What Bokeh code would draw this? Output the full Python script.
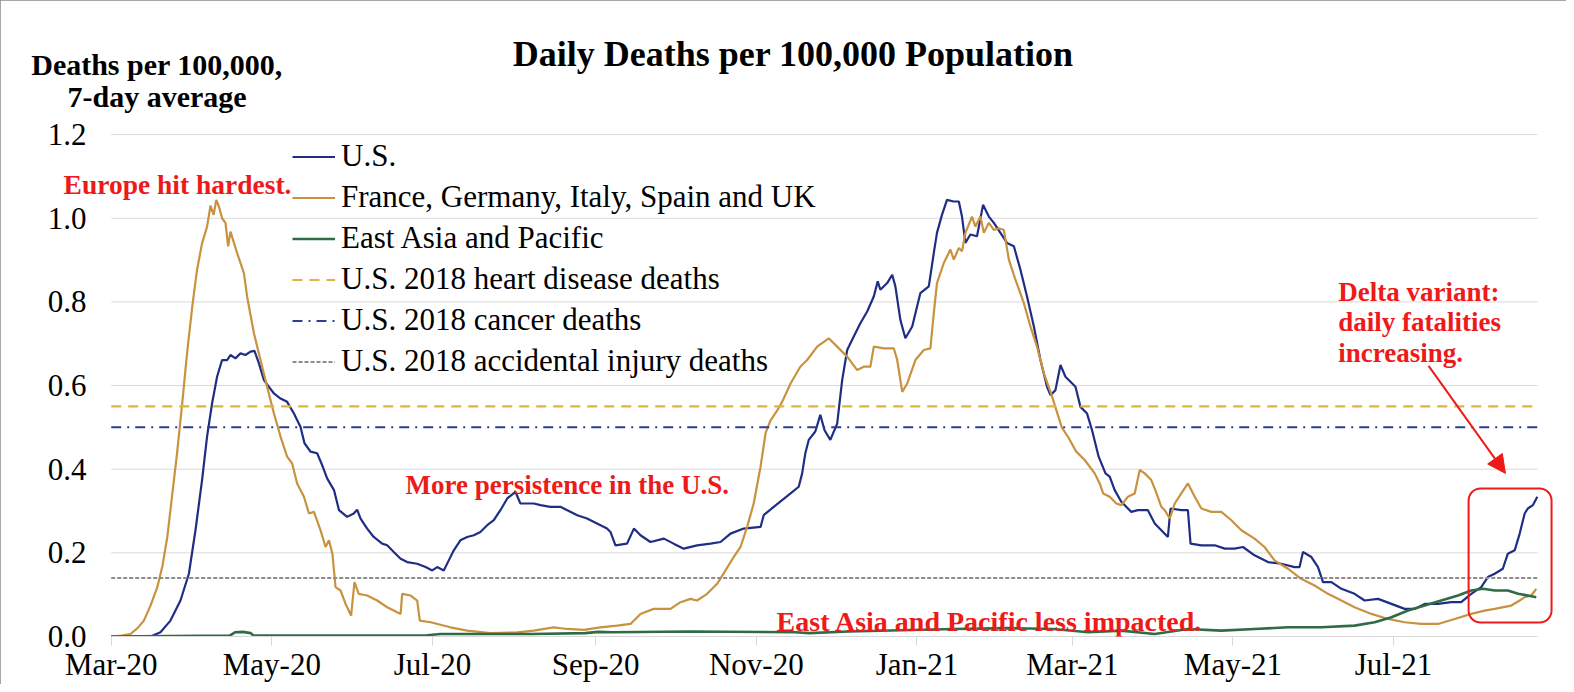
import numpy as np
import pandas as pd
from bokeh.plotting import figure
from bokeh.models import (FixedTicker, DatetimeTickFormatter, PrintfTickFormatter, Label,
                          Legend, LegendItem, BoxAnnotation, Arrow, NormalHead, Range1d)
from bokeh.embed import file_html
from bokeh.resources import INLINE

# ---------------- data ----------------
START = pd.Timestamp("2020-03-01")   # day 0
END_DAY = 541.7                      # last day shown on the axis

us_day = [0, 15, 18.7, 22.5, 26.3, 29.5, 32, 34.5, 36.4, 38.3, 40.2, 42.1, 44, 45.3, 47.2, 49.1, 51,
          52.9, 54.4, 56.1, 58, 59.9, 61.8, 64.3, 66.8, 69.4, 71.9, 73.4, 75.7, 78.2, 80.1, 82, 84.6,
          86.5, 89.6, 92.1, 93.4, 94.7, 97.2, 99.7, 102.9, 104.8, 107.3, 109.9, 112.4, 116.2, 119.4,
          121.9, 123.8, 126.3, 128.2, 130.1, 132.6, 135.2, 137.7, 140.2, 142.8, 145.3, 147.8, 150.4,
          153.5, 155.4, 160.5, 163, 166.8, 170.6, 173.2, 177, 180.7, 184.5, 188.3, 189.6, 191.5,
          195.9, 198.5, 201, 204.8, 209.9, 213.6, 217.4, 222.5, 227.6, 231.4, 235.2, 240.2, 246.6,
          247.8, 251.6, 254.8, 258, 261.1, 262.4, 263.6, 264.9, 267.4, 269.3, 270.9, 273.1, 275.7,
          277.6, 279.5, 282, 284.5, 287.1, 289.6, 291.1, 292.1, 294.7, 296.6, 297.8, 299.7, 301.6,
          304.2, 307.3, 310.5, 312.4, 313.6, 315.5, 317.4, 319.9, 321.9, 323.1, 324.4, 326.3, 328.8,
          331.1, 333.3, 335.2, 337.7, 340.2, 342.8, 345.3, 347.8, 350.4, 352.9, 355.4, 356.7, 358.6,
          360.5, 362.4, 364.3, 366.2, 368.1, 370.6, 372.5, 375, 377.6, 379.2, 381.1, 383.6, 387.4,
          389.9, 393.7, 396.3, 398.8, 401.3, 402.3, 406.4, 408.9, 409.9, 414, 419.1, 422.9, 426.6,
          429.8, 434.2, 439.3, 444.4, 449.4, 451.3, 452.6, 455.8, 458.3, 460.2, 463.4, 467.2, 472.2,
          476, 481.1, 486.2, 491.2, 495, 498.8, 503.9, 508.9, 512.7, 516.5, 520.3, 522.8, 525.4,
          528.5, 530.4, 533, 534.9, 536.8, 538, 539.9, 541.6]
us_val = [0, 0, 0.01, 0.038, 0.086, 0.15, 0.254, 0.374, 0.478, 0.557, 0.621, 0.661, 0.661, 0.673,
          0.665, 0.677, 0.673, 0.681, 0.683, 0.653, 0.613, 0.597, 0.581, 0.569, 0.561, 0.533, 0.501,
          0.462, 0.442, 0.438, 0.41, 0.378, 0.35, 0.302, 0.286, 0.294, 0.303, 0.282, 0.258, 0.238,
          0.222, 0.218, 0.202, 0.186, 0.178, 0.174, 0.166, 0.158, 0.166, 0.158, 0.182, 0.206, 0.23,
          0.238, 0.242, 0.25, 0.266, 0.278, 0.302, 0.33, 0.346, 0.318, 0.318, 0.314, 0.31, 0.31,
          0.302, 0.29, 0.282, 0.27, 0.258, 0.25, 0.218, 0.222, 0.258, 0.242, 0.226, 0.234, 0.222,
          0.21, 0.218, 0.222, 0.226, 0.246, 0.258, 0.262, 0.29, 0.31, 0.326, 0.342, 0.358, 0.39,
          0.438, 0.47, 0.49, 0.53, 0.493, 0.47, 0.509, 0.613, 0.685, 0.717, 0.749, 0.777, 0.813,
          0.849, 0.829, 0.845, 0.865, 0.837, 0.757, 0.713, 0.741, 0.821, 0.837, 0.917, 0.965, 1.008,
          1.044, 1.04, 1.04, 1.004, 0.941, 0.961, 0.957, 1.032, 1.004, 0.989, 0.965, 0.941, 0.933,
          0.877, 0.813, 0.741, 0.661, 0.597, 0.577, 0.589, 0.649, 0.621, 0.609, 0.597, 0.549, 0.533,
          0.493, 0.43, 0.39, 0.382, 0.35, 0.322, 0.298, 0.302, 0.302, 0.27, 0.254, 0.238, 0.306,
          0.302, 0.302, 0.222, 0.218, 0.218, 0.21, 0.21, 0.214, 0.194, 0.178, 0.174, 0.166, 0.166,
          0.202, 0.19, 0.166, 0.13, 0.13, 0.114, 0.102, 0.086, 0.09, 0.078, 0.066, 0.066, 0.078,
          0.078, 0.082, 0.082, 0.102, 0.118, 0.142, 0.15, 0.162, 0.198, 0.206, 0.246, 0.294, 0.306,
          0.314, 0.334]

eu_day = [0, 4, 7.3, 10, 12.4, 15, 17.5, 19.5, 21.3, 23, 25, 27, 28.8, 30.8, 32.6, 34.5, 36.4,
          37.7, 38.9, 39.9, 40.9, 42.1, 43.4, 44.4, 45.3, 47.8, 50.4, 51.6, 54.2, 56.7, 59.2, 61.8,
          64.3, 66.8, 68.7, 70.6, 73.2, 75.1, 77, 79.5, 81.4, 82.7, 84, 85.2, 87.1, 89, 91.1, 92.4,
          94, 97.2, 101, 104.8, 108.6, 109.9, 110.5, 113.7, 116.2, 117.2, 121.3, 128.8, 135.2, 144,
          154.2, 160.5, 168, 173.2, 179.5, 185.8, 192.1, 197.2, 201, 206, 212.4, 216.2, 220, 222.5,
          226.3, 230.1, 233.3, 236.4, 239, 241.5, 244, 246.6, 248.5, 250.4, 253, 254.8, 258, 261.7,
          264.3, 268.1, 272.5, 275.7, 279.5, 283.3, 285.8, 288.3, 289.6, 293.4, 297.2, 298.5, 300.4,
          302.3, 305.4, 308.6, 311.1, 312.4, 313.6, 316.2, 318.7, 320, 321.9, 323.1, 324.4, 326.9,
          328.2, 330.1, 331.4, 333.3, 335.2, 337.1, 339, 340.9, 343.4, 346.6, 349.1, 351.6, 354.2,
          357, 359, 361, 363.4, 366.5, 369.7, 373.5, 375.4, 376.7, 379.2, 381.7, 383.6, 386.1,
          388.7, 390.6, 392.5, 395, 397, 398.8, 400.1, 402, 403.9, 406.4, 408.9, 411.5, 414, 417.8,
          421.6, 425.4, 429.2, 434.2, 438, 441.8, 446.9, 451.9, 457, 462.1, 467.2, 472.2, 478.6,
          484.9, 491.2, 497.5, 503.9, 510.2, 516.5, 521.6, 525.4, 531.7, 534.9, 536.8, 539.3, 541.2]
eu_val = [0, 0.002, 0.006, 0.02, 0.038, 0.075, 0.118, 0.17, 0.238, 0.33, 0.438, 0.56, 0.677, 0.79,
          0.877, 0.94, 0.98, 1.03, 1.008, 1.044, 1.028, 1.0, 0.989, 0.933, 0.968, 0.917, 0.869, 0.813,
          0.725, 0.661, 0.597, 0.533, 0.478, 0.43, 0.414, 0.366, 0.334, 0.294, 0.298, 0.254, 0.214,
          0.23, 0.198, 0.118, 0.11, 0.078, 0.05, 0.13, 0.102, 0.098, 0.086, 0.07, 0.058, 0.054, 0.102,
          0.098, 0.086, 0.038, 0.034, 0.022, 0.014, 0.008, 0.01, 0.014, 0.022, 0.018, 0.016, 0.022,
          0.026, 0.03, 0.054, 0.066, 0.066, 0.082, 0.09, 0.086, 0.102, 0.126, 0.158, 0.19, 0.214,
          0.262, 0.318, 0.406, 0.486, 0.517, 0.541, 0.561, 0.605, 0.645, 0.661, 0.693, 0.713, 0.693,
          0.669, 0.637, 0.645, 0.645, 0.693, 0.689, 0.689, 0.661, 0.585, 0.605, 0.661, 0.685, 0.689,
          0.773, 0.845, 0.893, 0.925, 0.901, 0.929, 0.921, 0.965, 1.004, 0.98, 1.004, 0.965, 0.989,
          0.972, 0.976, 0.972, 0.901, 0.853, 0.797, 0.741, 0.693, 0.629, 0.58, 0.54, 0.5, 0.477,
          0.442, 0.422, 0.39, 0.366, 0.342, 0.334, 0.318, 0.314, 0.334, 0.342, 0.398, 0.39, 0.374,
          0.342, 0.31, 0.302, 0.282, 0.318, 0.342, 0.366, 0.334, 0.306, 0.298, 0.298, 0.278, 0.254,
          0.234, 0.214, 0.182, 0.162, 0.138, 0.122, 0.102, 0.086, 0.07, 0.054, 0.042, 0.034, 0.03,
          0.03, 0.042, 0.054, 0.062, 0.066, 0.074, 0.086, 0.094, 0.098, 0.114]

ea_day = [0, 45, 47, 50, 53, 54, 100, 120, 125, 160, 180, 185, 190, 220, 260, 265, 280, 300, 320,
          340, 358, 371, 383.6, 396.3, 408.9, 421.6, 434.2, 446.9, 459.6, 472.2, 479.8, 486.2, 492.5,
          498.8, 505.1, 511.5, 516.5, 521, 525.4, 530.4, 534.3, 538, 541.2]
ea_val = [0, 0.002, 0.01, 0.011, 0.008, 0.002, 0.002, 0.003, 0.006, 0.006, 0.008, 0.011, 0.01,
          0.012, 0.01, 0.008, 0.012, 0.015, 0.018, 0.02, 0.018, 0.01, 0.014, 0.006, 0.018, 0.014,
          0.018, 0.022, 0.022, 0.026, 0.034, 0.046, 0.062, 0.074, 0.086, 0.098, 0.11, 0.114, 0.11,
          0.11, 0.102, 0.098, 0.094]

heart_val = 0.55
cancer_val = 0.50
injury_val = 0.14

series_names = ["U.S.", "France, Germany, Italy, Spain and UK", "East Asia and Pacific",
                "U.S. 2018 heart disease deaths", "U.S. 2018 cancer deaths",
                "U.S. 2018 accidental injury deaths"]
x_tick_dates = ["2020-03-01", "2020-05-01", "2020-07-01", "2020-09-01", "2020-11-01",
                "2021-01-01", "2021-03-01", "2021-05-01", "2021-07-01"]
y_ticks = [0.0, 0.2, 0.4, 0.6, 0.8, 1.0, 1.2]

# ---------------- helpers ----------------
def to_dt(days):
    return START + pd.to_timedelta(np.asarray(days, dtype=float), unit="D")

def ms(day):
    return (START + pd.Timedelta(days=day)).timestamp() * 1000.0

FONT = "Liberation Serif"
RED = "#EE1A1A"
C_US = "#1F2E84"
C_EU = "#C8923F"
C_EA = "#2E6B46"
C_HEART = "#E2B33C"
C_CANCER = "#2C3E98"
C_INJ = "#8C8C8C"
C_GRID = "#d9d9d9"

# frame spans nearly the whole canvas so that annotations outside the axes are not clipped
X_START_DAY = -37.49
X_END_DAY = 550.4
Y_TOP = 1.511

p = figure(width=1566, height=684, x_axis_type="datetime", output_backend="svg",
           toolbar_location=None,
           x_range=Range1d(ms(X_START_DAY), ms(X_END_DAY)), y_range=Range1d(0, Y_TOP),
           min_border_left=12, min_border_right=6, min_border_top=4, min_border_bottom=40)
p.title.visible = False
p.outline_line_color = None
p.background_fill_color = "white"
p.border_fill_color = "white"
p.styles = {"outline": "1px solid #8a8a8a", "outline-offset": "-1px"}

# gridlines only across the data period
p.xgrid.visible = False
p.ygrid.visible = False
n = len(y_ticks)
p.segment(x0=to_dt([0] * n), x1=to_dt([END_DAY] * n), y0=y_ticks, y1=y_ticks,
          line_color=C_GRID, line_width=1)

p.yaxis.ticker = FixedTicker(ticks=y_ticks)
p.yaxis.formatter = PrintfTickFormatter(format="%.1f")
p.yaxis.axis_line_color = None
p.yaxis.major_tick_line_color = None
p.yaxis.minor_tick_line_color = None
p.yaxis.major_tick_out = 0
p.yaxis.major_tick_in = 0
p.yaxis.major_label_text_font = FONT
p.yaxis.major_label_text_font_size = "31px"
p.yaxis.major_label_text_color = "black"
p.yaxis.major_label_standoff = -74

p.xaxis.ticker = FixedTicker(ticks=[ms((pd.Timestamp(d) - START).days) for d in x_tick_dates])
fmt = "%b-%y"
p.xaxis.formatter = DatetimeTickFormatter(days=fmt, months=fmt, years=fmt, hours=fmt,
                                          minutes=fmt, seconds=fmt, milliseconds=fmt,
                                          microseconds=fmt, minsec=fmt, hourmin=fmt)
p.xaxis.bounds = (ms(0), ms(END_DAY))
p.xaxis.axis_line_color = C_GRID
p.xaxis.major_tick_line_color = C_GRID
p.xaxis.major_tick_out = 9
p.xaxis.major_tick_in = 0
p.xaxis.minor_tick_line_color = None
p.xaxis.major_label_text_font = FONT
p.xaxis.major_label_text_font_size = "31px"
p.xaxis.major_label_text_color = "black"
p.xaxis.major_label_standoff = 1

# series
x_ends = to_dt([0, END_DAY])
r_us = p.line(to_dt(us_day), us_val, line_color=C_US, line_width=2.2)
r_eu = p.line(to_dt(eu_day), eu_val, line_color=C_EU, line_width=2.2)
r_ea = p.line(to_dt(ea_day), ea_val, line_color=C_EA, line_width=2.6)
r_heart = p.line(x_ends, [heart_val, heart_val], line_color=C_HEART, line_width=2.2, line_dash="10 7")
r_cancer = p.line(x_ends, [cancer_val, cancer_val], line_color=C_CANCER, line_width=2,
                  line_dash="10 6 2 6")
r_inj = p.line(x_ends, [injury_val, injury_val], line_color=C_INJ, line_width=2, line_dash="4 2")

renderers = [r_us, r_eu, r_ea, r_heart, r_cancer, r_inj]
legend = Legend(items=[LegendItem(label=n_, renderers=[r]) for n_, r in zip(series_names, renderers)],
                location=(280, 257), orientation="vertical",
                background_fill_alpha=0, border_line_alpha=0,
                label_text_font=FONT, label_text_font_size="31px", label_text_color="black",
                glyph_width=43, glyph_height=35, label_height=35, spacing=5,
                padding=0, margin=0, label_standoff=6)
p.add_layout(legend)

# titles and annotations
def lab(day, y, text, size, color="black", align="left", bold=True):
    p.add_layout(Label(x=ms(day), y=y, text=text, text_font=FONT, text_font_size=size,
                       text_font_style="bold" if bold else "normal", text_color=color,
                       text_align=align, text_baseline="alphabetic"))

lab(259, 1.392, "Daily Deaths per 100,000 Population", "36px", align="center")
lab(17.4, 1.368, "Deaths per 100,000,", "30px", align="center")
lab(17.4, 1.291, "7-day average", "30px", align="center")
lab(-18.1, 1.080, "Europe hit hardest.", "27.5px", color=RED)
lab(111.8, 0.362, "More persistence in the U.S.", "27px", color=RED)
lab(252.7, 0.036, "East Asia and Pacific less impacted.", "28px", color=RED)
lab(466.0, 0.824, "Delta variant:", "27px", color=RED)
lab(466.0, 0.752, "daily fatalities", "27px", color=RED)
lab(466.0, 0.678, "increasing.", "27px", color=RED)

p.add_layout(Arrow(end=NormalHead(size=18, fill_color=RED, line_color=RED),
                   x_start=ms(500.3), y_start=0.647, x_end=ms(529.5), y_end=0.39,
                   line_color=RED, line_width=2))
p.add_layout(BoxAnnotation(left=ms(515.5), right=ms(547.0), bottom=0.0335, top=0.354,
                           fill_alpha=0, line_color=RED, line_alpha=1, line_width=2,
                           border_radius=12))

open("out.html", "w").write(file_html(p, INLINE))
